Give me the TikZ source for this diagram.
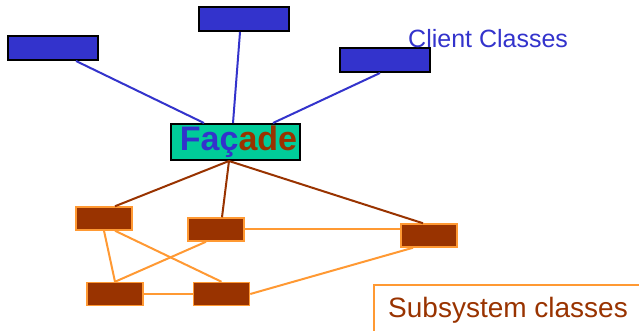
\documentclass[tikz,border=0pt]{standalone}
\usepackage{fontspec}
\setmainfont{Liberation Sans}
\definecolor{clientblue}{HTML}{3333CC}
\definecolor{facadegreen}{HTML}{00CC99}
\definecolor{subbrown}{HTML}{993300}
\definecolor{suborange}{HTML}{FF9933}
\tikzset{
  client/.style={draw=black, line width=2pt, fill=clientblue, minimum width=90pt, minimum height=24pt, inner sep=0pt},
  subsys/.style={draw=suborange, line width=1.5pt, fill=subbrown, minimum width=56pt, minimum height=23pt, inner sep=0pt},
  clientline/.style={clientblue, line width=2pt},
  brownline/.style={subbrown, line width=2pt},
  orangeline/.style={suborange, line width=2pt}
}
\begin{document}
\begin{tikzpicture}[x=1pt,y=-1pt]
\useasboundingbox[fill=white] (0,0) rectangle (639,331);

% client classes
\node[client] (c1) at (53,48) {};
\node[client] (c2) at (244,19) {};
\node[client] (c3) at (385,60) {};
\node[anchor=base west, text=clientblue, inner sep=0pt, font=\fontsize{25}{30}\selectfont] (clientlabel) at (408,48) {Client Classes};

% the facade
\node[draw=black, line width=2pt, fill=facadegreen, minimum width=129pt, minimum height=36pt, inner sep=0pt,
      font=\fontsize{34}{38}\selectfont\bfseries] (facade) at (235.5,142)
  {\hspace{6pt}\textcolor{clientblue}{Faç}\textcolor{subbrown}{ade}};

\draw[clientline] ([xshift=23pt]c1.south) -- ([xshift=-31.5pt]facade.north);
\draw[clientline] ([xshift=-4pt]c2.south) -- ([xshift=-2.5pt]facade.north);
\draw[clientline] ([xshift=-5pt]c3.south) -- ([xshift=37.5pt]facade.north);

% subsystem classes
\node[subsys] (s1) at (104,218.5) {};
\node[subsys] (s2) at (216,229.5) {};
\node[subsys] (s3) at (429,235.5) {};
\node[subsys] (s4) at (115,294) {};
\node[subsys] (s5) at (221.5,294) {};

\draw[brownline] ([xshift=-6.5pt]facade.south) -- ([xshift=11pt]s1.north);
\draw[brownline] ([xshift=-6.5pt]facade.south) -- ([xshift=6pt]s2.north);
\draw[brownline] ([xshift=-6.5pt]facade.south) -- ([xshift=-6pt]s3.north);

\draw[orangeline] (s1.south) -- (s4.north);
\draw[orangeline] ([xshift=11pt]s1.south) -- (s5.north);
\draw[orangeline] ([xshift=-10pt]s2.south) -- (s4.north);
\draw[orangeline] ([yshift=0.5pt]s2.east) -- ([yshift=0.5pt]s2.east -| s3.west);
\draw[orangeline] (s4.east) -- (s5.west);
\draw[orangeline] ([xshift=-16pt]s3.south) -- (s5.east);

% label box
\draw[suborange, line width=1.5pt] (374,345) |- (650,285);
\node[anchor=base west, text=subbrown, inner sep=0pt, font=\fontsize{28}{32}\selectfont] (sublabel) at (388,317) {Subsystem classes};

\end{tikzpicture}
\end{document}
